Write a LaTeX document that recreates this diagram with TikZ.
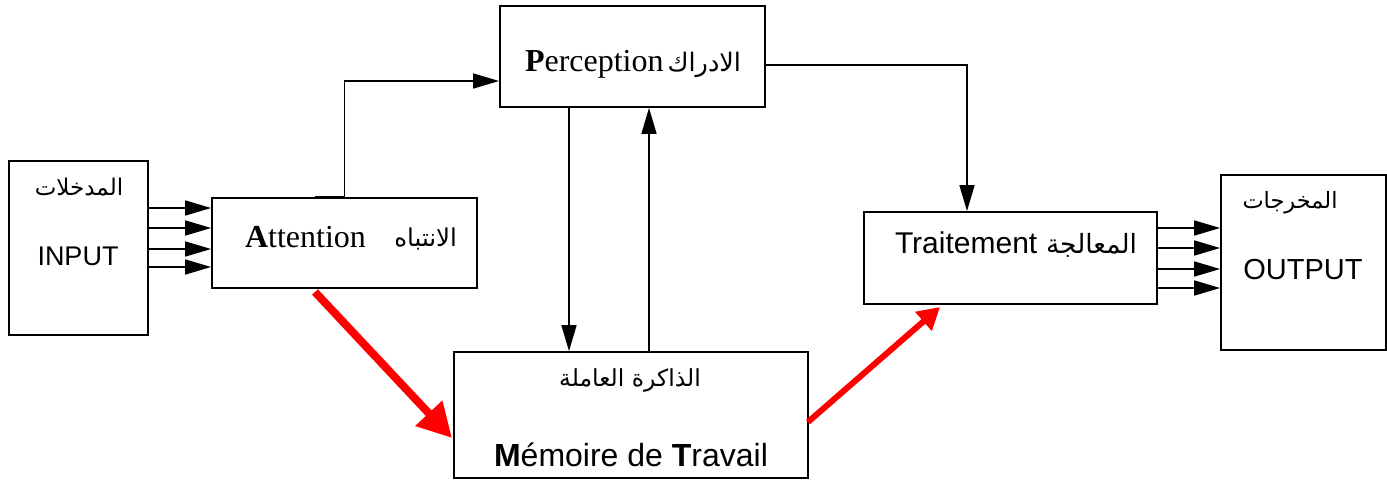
\documentclass[tikz,border=0pt]{standalone}
\usepackage{fontspec}
\setmainfont{Liberation Serif}
\setsansfont{Liberation Sans}
\newfontfamily\arabicfont[Script=Arabic]{DejaVu Sans}
\TeXXeTstate=1
\usetikzlibrary{arrows.meta}

\newcommand{\ar}[1]{{\arabicfont\beginR #1\endR}}
\newcommand{\fs}[1]{\fontsize{#1}{#1}\selectfont}

\begin{document}
\begin{tikzpicture}[x=1pt,y=-1pt,
  box/.style={draw, line width=1.8pt, rectangle, inner sep=0pt},
  lbl/.style={inner sep=0pt, outer sep=0pt},
  link/.style={line width=1.6pt, -{Triangle[length=26pt,width=15pt]}},
  bigred/.style={red, line width=8pt, -{Triangle[length=34pt,width=35pt]}},
  smallred/.style={red, line width=6pt, -{Triangle[length=22pt,width=24pt]}},
  ser/.style={lbl, font=\fs{32}},
  san/.style={lbl, font=\sffamily\fs{30}},
  arb/.style={lbl, font=\fs{24}}]

\fill[white] (0,0) rectangle (1387,483);
\useasboundingbox (0,0) rectangle (1387,483);

% blocks
\node[box, minimum width=139, minimum height=174] (in)  at (78.5,248) {};
\node[box, minimum width=265, minimum height=90]  (att) at (344.5,243) {};
\node[box, minimum width=265, minimum height=101] (per) at (632.5,56.5) {};
\node[box, minimum width=354, minimum height=126] (mem) at (631,415) {};
\node[box, minimum width=293, minimum height=92]  (tra) at (1010.5,258) {};
\node[box, minimum width=165, minimum height=175] (out) at (1303.5,262.5) {};

% labels
\node[arb, anchor=base, font=\fs{23}] (inAr) at (79,195) {\ar{المدخلات}};
\node[san, anchor=base, font=\sffamily\fs{27}] (inTx) at (78,265) {INPUT};

\node[ser, anchor=base west] (attTx) at (245,247) {\textbf{A}ttention};
\node[arb, anchor=base east, font=\fs{24.5}] (attAr) at (457,246) {\ar{الانتباه}};

\node[ser, anchor=base west] (perTx) at (525,71) {\textbf{P}erception};
\node[arb, anchor=base east, font=\fs{25.5}] (perAr) at (741,71) {\ar{الادراك}};

\node[arb, anchor=base, font=\fs{23.5}] (memAr) at (630,386) {\ar{الذاكرة العاملة}};
\node[san, anchor=base, font=\sffamily\fs{32}] (memTx) at (631,466) {\textbf{M}émoire de \textbf{T}ravail};

\node[san, anchor=base west] (traTx) at (895,253) {Traitement};
\node[arb, anchor=base east, font=\fs{26.5}] (traAr) at (1137,253) {\ar{المعالجة}};

\node[arb, anchor=base, font=\fs{22.5}] (outAr) at (1290,208) {\ar{المخرجات}};
\node[san, anchor=base, font=\sffamily\fs{29}] (outTx) at (1303,279) {OUTPUT};

% helper levels
\coordinate (i1) at (0,208);
\coordinate (i2) at (0,228);
\coordinate (i3) at (0,249);
\coordinate (i4) at (0,267);
\coordinate (o1) at (0,228);
\coordinate (o2) at (0,248);
\coordinate (o3) at (0,269);
\coordinate (o4) at (0,288);
\coordinate (attStub) at (315,197);
\coordinate (perIn) at (0,81);
\coordinate (down) at (569,0);
\coordinate (up) at (649,0);
\coordinate (perOut) at (0,65);
\coordinate (traIn) at (967,0);
\coordinate (r1s) at (315,292);
\coordinate (r1e) at (452,438);
\coordinate (r2s) at (808,422);
\coordinate (r2e) at (940,307);

% inputs into attention
\foreach \k in {i1,i2,i3,i4}
  \draw[link] (in.east |- \k) -- (att.west |- \k);

% outputs of processing
\foreach \k in {o1,o2,o3,o4}
  \draw[link] (tra.east |- \k) -- (out.west |- \k);

% attention -> perception
\draw[link] (attStub) -- (att.north |- attStub) -- (att.north |- perIn) -- (per.west |- perIn);

% perception <-> working memory
\draw[link] (per.south -| down) -- (mem.north -| down);
\draw[link] (mem.north -| up) -- (per.south -| up);

% perception -> processing
\draw[link] (per.east |- perOut) -- (traIn |- perOut) -- (tra.north -| traIn);

% red flows
\draw[bigred] (r1s) -- (r1e);
\draw[smallred] (r2s) -- (r2e);

\end{tikzpicture}
\end{document}
